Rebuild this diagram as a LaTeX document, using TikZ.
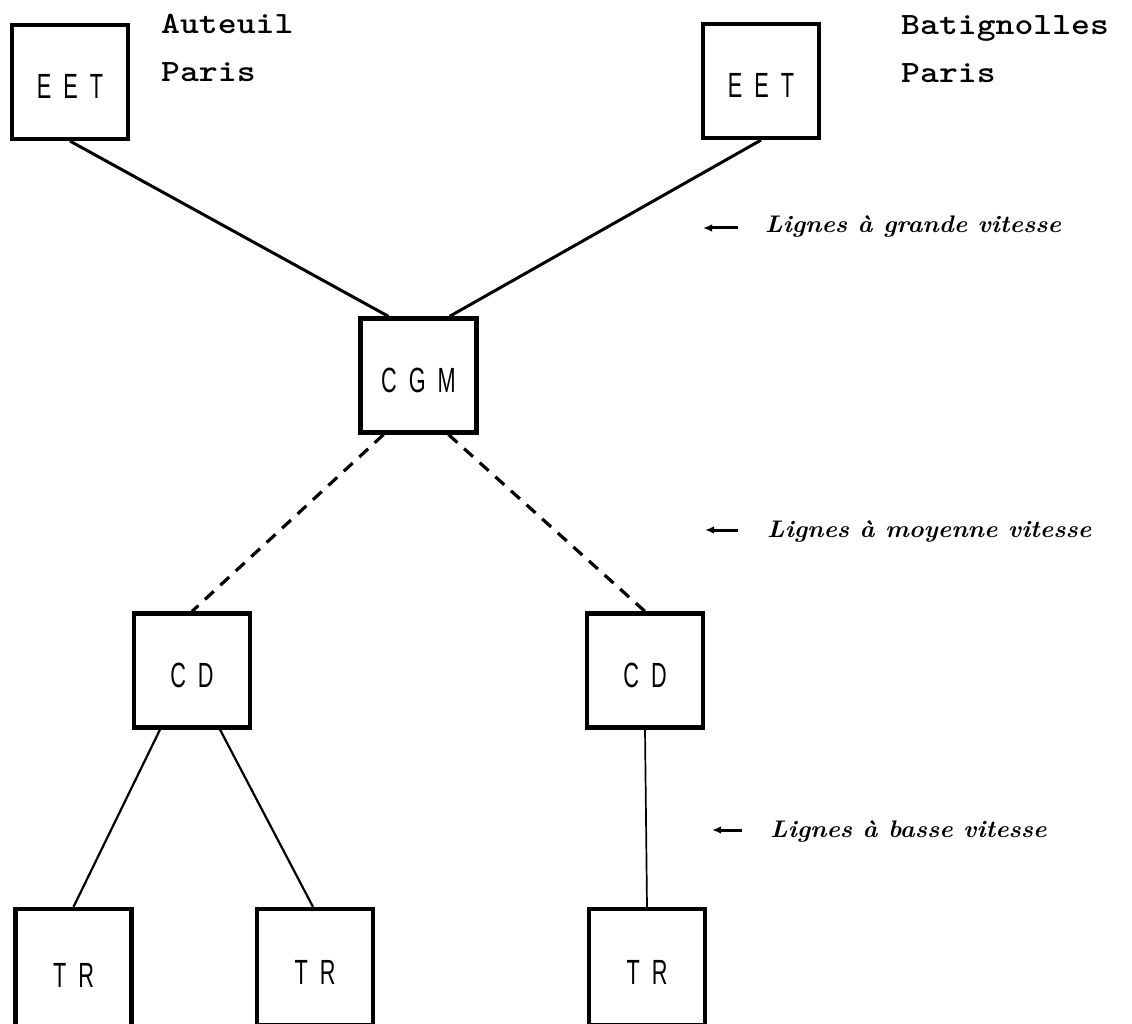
\documentclass[tikz,border=0pt]{standalone}
\usepackage{fontspec}
\usetikzlibrary{arrows.meta}
\newfontfamily\boxfont[FakeStretch=0.62]{Liberation Sans}
\newcommand\gp{\hspace{12pt}}
\begin{document}
\begin{tikzpicture}[x=1pt,y=-1pt,
  unit/.style={draw, line width=4.2pt, minimum width=116pt, minimum height=114pt,
    inner sep=0pt, text height=34pt,
    font=\boxfont\fontsize{35}{35}\selectfont},
  trunit/.style={unit, minimum height=116pt},
  place/.style={anchor=base west, inner sep=0pt, xscale=1.16,
    font=\ttfamily\bfseries\fontsize{31}{31}\selectfont},
  note/.style={anchor=base west, inner sep=0pt,
    font=\bfseries\itshape\fontsize{24}{24}\selectfont, xscale=1.05},
  fast/.style={line width=3pt},
  mid/.style={line width=3.2pt, dash pattern=on 12pt off 9pt},
  slow/.style={line width=2.2pt},
  pointer/.style={line width=3pt, -{Latex[length=9pt,width=7.5pt]}},
]
\useasboundingbox (0,0) rectangle (1132,1024);

% stations
\node[unit] (eetL) at (70,82) {E\gp E\gp T};
\node[unit] (eetR) at (761,81) {E\gp E\gp T};
\node[unit] (cgm) at (418.5,375.5) {C\gp G\gp M};
\node[unit] (cdL) at (192,670.5) {C\gp D};
\node[unit] (cdR) at (645,670.5) {C\gp D};
\node[trunit, minimum height=123pt] (trA) at (73.5,970.5) {T\gp R};
\node[trunit] (trB) at (315,967) {T\gp R};
\node[trunit] (trC) at (647,967) {T\gp R};

% place names
\node[place] (auteuil) at (161,34) {Auteuil};
\node[place] (parisA) at (161,82) {Paris};
\node[place] (batig) at (901,35) {Batignolles};
\node[place] (parisB) at (901,83) {Paris};

% links
\draw[fast] (eetL.south) -- ([xshift=-30pt]cgm.north);
\draw[fast] (eetR.south) -- ([xshift=31pt]cgm.north);
\draw[mid] ([xshift=-35pt]cgm.south) -- (cdL.north);
\draw[mid] ([xshift=30pt]cgm.south) -- (cdR.north);
\draw[slow] ([xshift=-32pt]cdL.south) -- (trA.north);
\draw[slow] ([xshift=28pt]cdL.south) -- ([xshift=-2pt]trB.north);
\draw[slow, line width=1.7pt] (cdR.south) -- (trC.north);

% legend of line speeds
\node[note] (lg) at (765,233) {Lignes à grande vitesse};
\node[note] (lm) at (767,537) {Lignes à moyenne vitesse};
\node[note] (lb) at (770,837) {Lignes à basse vitesse};
\coordinate (gTail) at (738,228); \coordinate (gTip) at (703,228);
\coordinate (mTail) at (738,530); \coordinate (mTip) at (705,530);
\coordinate (bTail) at (742,830); \coordinate (bTip) at (712,830);
\draw[pointer] (gTail) -- (gTip);
\draw[pointer] (mTail) -- (mTip);
\draw[pointer] (bTail) -- (bTip);
\end{tikzpicture}
\end{document}
